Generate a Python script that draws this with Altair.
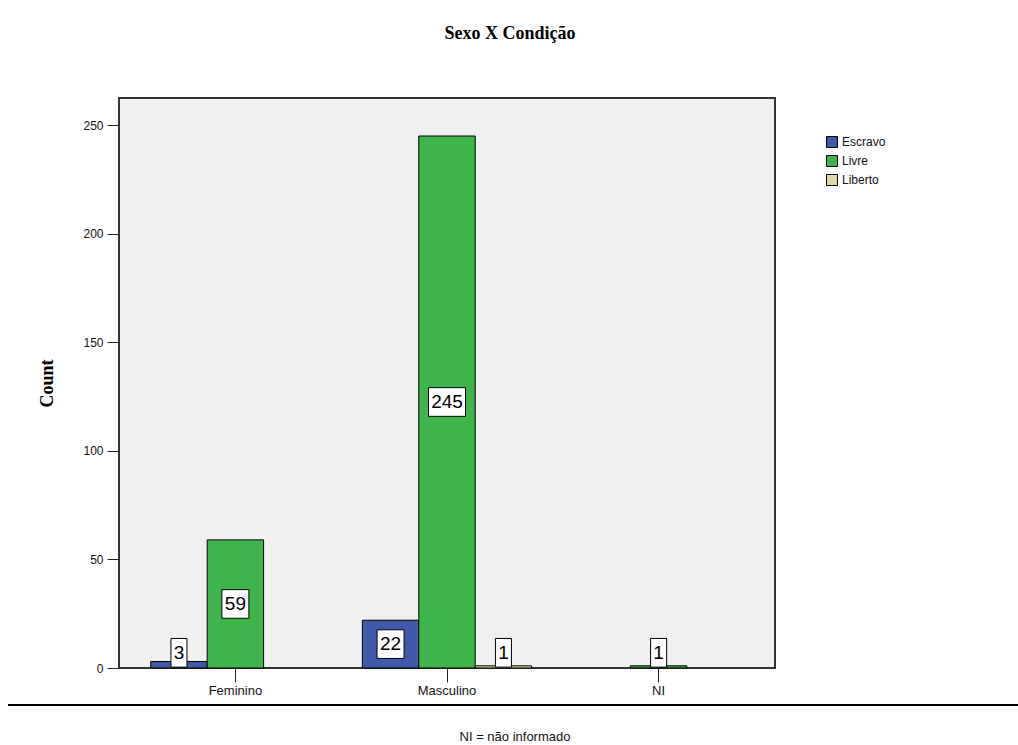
import altair as alt
import pandas as pd

sexo = ["Feminino", "Masculino", "NI"]
condicao = ["Escravo", "Livre", "Liberto"]
escravo = [3, 22, 0]
livre = [59, 245, 1]
liberto = [0, 1, 0]
cores = ["#3F5AA8", "#3DB54A", "#DEDAA8"]
y_ticks = [0, 50, 100, 150, 200, 250]
titulo = "Sexo X Condição"
nota = "NI = não informado"

rows = []
for i, s in enumerate(sexo):
    for c, vals in zip(condicao, [escravo, livre, liberto]):
        rows.append({"Sexo": s, "Condicao": c, "Count": vals[i]})
df = pd.DataFrame(rows)
df = df[df["Count"] > 0].reset_index(drop=True)
df["digits"] = df["Count"].astype(str).str.len()

x_enc = alt.X("Sexo:N", sort=sexo,
              scale=alt.Scale(domain=sexo, paddingInner=0.2, paddingOuter=0.15),
              axis=alt.Axis(title=None, domain=False, tickSize=14, tickColor="#222",
                            tickWidth=1, labelFontSize=13, labelColor="#111",
                            labelFont="Liberation Sans", labelPadding=2, labelAngle=0))
xo_enc = alt.XOffset("Condicao:N", sort=condicao,
                     scale=alt.Scale(domain=condicao, paddingInner=0, paddingOuter=0))
y_scale = alt.Scale(domain=[0, 262.5], nice=False)

base = alt.Chart(df)

bars = base.mark_bar(stroke="black", strokeWidth=1).encode(
    x=x_enc,
    xOffset=xo_enc,
    y=alt.Y("Count:Q", scale=y_scale,
            axis=alt.Axis(values=y_ticks, title="Count", domain=False, grid=False,
                          tickSize=12, tickColor="#222", labelFontSize=12,
                          labelColor="#111", labelFont="Liberation Sans",
                          labelPadding=4, titleFont="Liberation Serif",
                          titleFontSize=18, titleFontWeight="bold",
                          titleColor="black", titlePadding=26)),
    color=alt.Color("Condicao:N", sort=condicao,
                    scale=alt.Scale(domain=condicao, range=cores),
                    legend=alt.Legend(title=None, orient="none", legendX=707, legendY=38,
                                      symbolType="square", symbolSize=120,
                                      symbolStrokeColor="black", symbolStrokeWidth=1,
                                      labelFontSize=12, labelFont="Liberation Sans",
                                      labelColor="#111", rowPadding=3)),
)

lab = base.transform_calculate(
    ly="max(datum.Count / 2, 7)"
).transform_calculate(
    lo="datum.ly - 6.6", hi="datum.ly + 6.6"
)

boxes = []
for d, w in [(1, 16), (2, 27), (3, 37)]:
    boxes.append(
        lab.transform_filter(f"datum.digits == {d}").mark_bar(
            width=w, fill="white", stroke="black", strokeWidth=1
        ).encode(
            x=alt.X("Sexo:N", sort=sexo),
            xOffset=alt.XOffset("Condicao:N", sort=condicao),
            y=alt.Y("lo:Q", scale=y_scale),
            y2="hi:Q",
        )
    )

texts = lab.mark_text(fontSize=19, font="Liberation Sans", color="black",
                      baseline="middle", align="center").encode(
    x=alt.X("Sexo:N", sort=sexo),
    xOffset=alt.XOffset("Condicao:N", sort=condicao),
    y=alt.Y("ly:Q", scale=y_scale),
    text="Count:Q",
)

deco = alt.Chart(pd.DataFrame({"t": [nota]}))
rule = deco.mark_rule(color="black", strokeWidth=2).encode(
    x=alt.value(-111), x2=alt.value(899), y=alt.value(607)
)
foot = deco.mark_text(fontSize=13, font="Liberation Sans", color="#111").encode(
    x=alt.value(396), y=alt.value(639), text="t:N"
)

chart = alt.layer(bars, *boxes, texts, rule, foot).properties(
    width=656, height=570,
    background="white",
    title=alt.Title(titulo, font="Liberation Serif", fontSize=18, fontWeight="bold",
                    color="black", anchor="middle", offset=55, dx=63),
    autosize=alt.AutoSizeParams(type="none"),
    padding={"left": 119, "top": 98, "right": 243, "bottom": 77},
).configure_view(
    fill="#F0F0F0", stroke="#333333", strokeWidth=2
)

chart.save("out.html", embed_options={"renderer": "svg", "actions": False})
